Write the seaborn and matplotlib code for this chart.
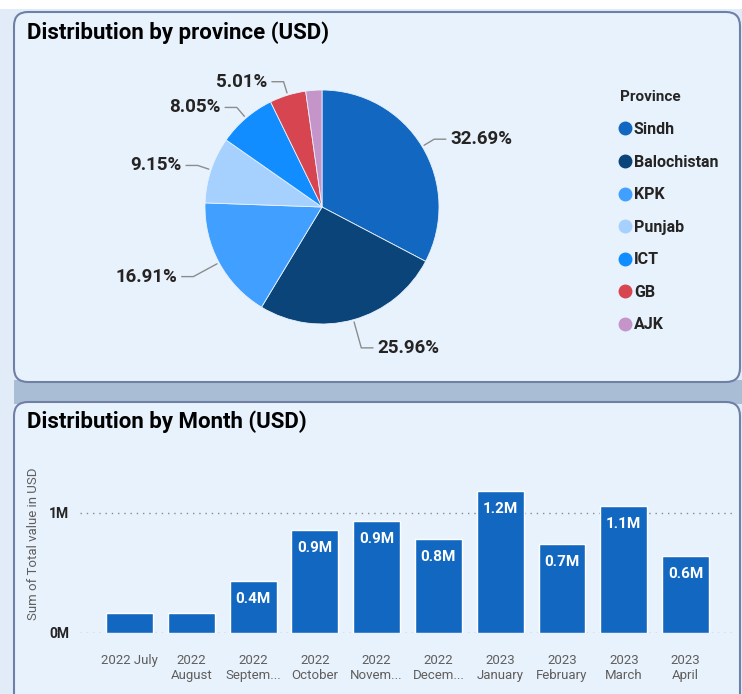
import numpy as np
import matplotlib.pyplot as plt
import seaborn as sns
from matplotlib.patches import FancyBboxPatch, Rectangle
from matplotlib.lines import Line2D

# data
provinces = ['Sindh', 'Balochistan', 'KPK', 'Punjab', 'ICT', 'GB', 'AJK']
shares = [32.69, 25.96, 16.91, 9.15, 8.05, 5.01, 2.23]
province_colors = ['#1267C0', '#0B4479', '#41A0FF', '#A6D1FF', '#128DFF', '#D64550', '#C594C8']

months = ['2022 July', '2022\nAugust', '2022\nSeptem...', '2022\nOctober', '2022\nNovem...',
          '2022\nDecem...', '2023\nJanuary', '2023\nFebruary', '2023\nMarch', '2023\nApril']
totals = [0.17, 0.17, 0.43, 0.86, 0.93, 0.78, 1.18, 0.74, 1.06, 0.64]  # million USD

sns.set_theme(style='white')
plt.rcParams['font.family'] = ['Roboto', 'DejaVu Sans']
bold_font = ['Roboto', 'DejaVu Sans']
dark = '#252423'
grey = '#605e5c'

W, H = 742, 694
fig = plt.figure(figsize=(W / 100, H / 100), dpi=100)
fig.patch.set_facecolor('#e1ecf8')

# background canvas in pixel units
bg = fig.add_axes([0, 0, 1, 1], zorder=-5)
bg.set_xlim(0, W)
bg.set_ylim(H, 0)
bg.axis('off')
bg.add_patch(Rectangle((0, 0), W, 9, color='white', lw=0))
bg.add_patch(Rectangle((14, 380), W, 24, color='#a9bdd4', lw=0))
for y0, y1 in [(12, 382), (402, 710)]:
    bg.add_patch(FancyBboxPatch((14, y0), 726, y1 - y0,
                                boxstyle='round,pad=0,rounding_size=14',
                                facecolor='#e8f2fd', edgecolor='#6f7fa6', lw=1.5))

fig.text(27 / W, 1 - 33 / H, 'Distribution by province (USD)', family=bold_font,
         weight='bold', size=16, color='black', va='center')
fig.text(27 / W, 1 - 422 / H, 'Distribution by Month (USD)', family=bold_font,
         weight='bold', size=16, color='black', va='center')

# ---- pie ----
cx, cy, r = 322, 207, 117
ax1 = fig.add_axes([(cx - r) / W, 1 - (cy + r) / H, 2 * r / W, 2 * r / H])
ax1.pie(shares, colors=province_colors, startangle=90, counterclock=False, radius=1,
        wedgeprops=dict(linewidth=0.6, edgecolor='#e8f2fd'))
ax1.set_xlim(-1, 1)
ax1.set_ylim(-1, 1)

theta = 90
for share in shares:
    mid = theta - share * 3.6 / 2
    theta -= share * 3.6
    if share < 3:
        continue
    a = np.deg2rad(mid)
    elbow = 1.12 if np.sin(a) > 0 else 1.25
    x0, y0 = np.cos(a) * 1.02, np.sin(a) * 1.02
    x1, y1 = np.cos(a) * elbow, np.sin(a) * elbow
    side = 1 if x1 >= 0 else -1
    x2 = x1 + side * 0.1
    ax1.plot([x0, x1, x2], [y0, y1, y1], color='#8c8c8c', lw=1, clip_on=False)
    ax1.text(x2 + side * 0.04, y1, f'{share:.2f}%', ha='left' if side > 0 else 'right',
             va='center', weight='bold', size=13.5, color=dark, clip_on=False)

handles = [Line2D([], [], marker='o', linestyle='', color=c, markersize=9) for c in province_colors]
leg = fig.legend(handles, provinces, title='Province', loc='upper left',
                 bbox_to_anchor=(614 / W, 1 - 84 / H), frameon=False, alignment='left',
                 handlelength=0.6, handletextpad=0.25, labelspacing=1.1, borderaxespad=0,
                 prop=dict(weight='bold', size=11.5))
leg.get_title().set_fontweight('bold')
leg.get_title().set_fontsize(11)
for t in leg.get_texts():
    t.set_color(dark)

# ---- bars ----
ax2 = fig.add_axes([80 / W, 1 - 633 / H, 655 / W, (633 - 470) / H])
sns.barplot(x=months, y=totals, color='#1268C1', saturation=1, width=0.76, ax=ax2)
ax2.set_xlim(-0.8, 9.8)
ax2.set_ylim(0, 1.358)
for i, v in enumerate(totals):
    if v < 0.3:
        continue
    ax2.annotate(f'{v:.1f}M', (i, v), xytext=(0, -8), textcoords='offset points',
                 ha='center', va='top', color='white', weight='bold', size=11)
ax2.set_yticks([0, 1])
ax2.set_yticklabels(['0M', '1M'], weight='bold', color=dark, size=10)
ax2.yaxis.grid(True, linestyle=(0, (1, 3.5)), color='#8a8a8a', lw=1)
ax2.set_axisbelow(True)
ax2.tick_params(length=0, pad=8)
ax2.tick_params(axis='x', labelsize=9.5, labelcolor=grey, pad=15)
ax2.set_facecolor('none')
for s in ax2.spines.values():
    s.set_visible(False)
ax2.set_ylabel('Sum of Total value in USD', size=9.5, color=grey)
ax2.yaxis.set_label_coords(-40 / 655, 0.55)

fig.savefig('out.png', dpi=100, facecolor=fig.get_facecolor())
